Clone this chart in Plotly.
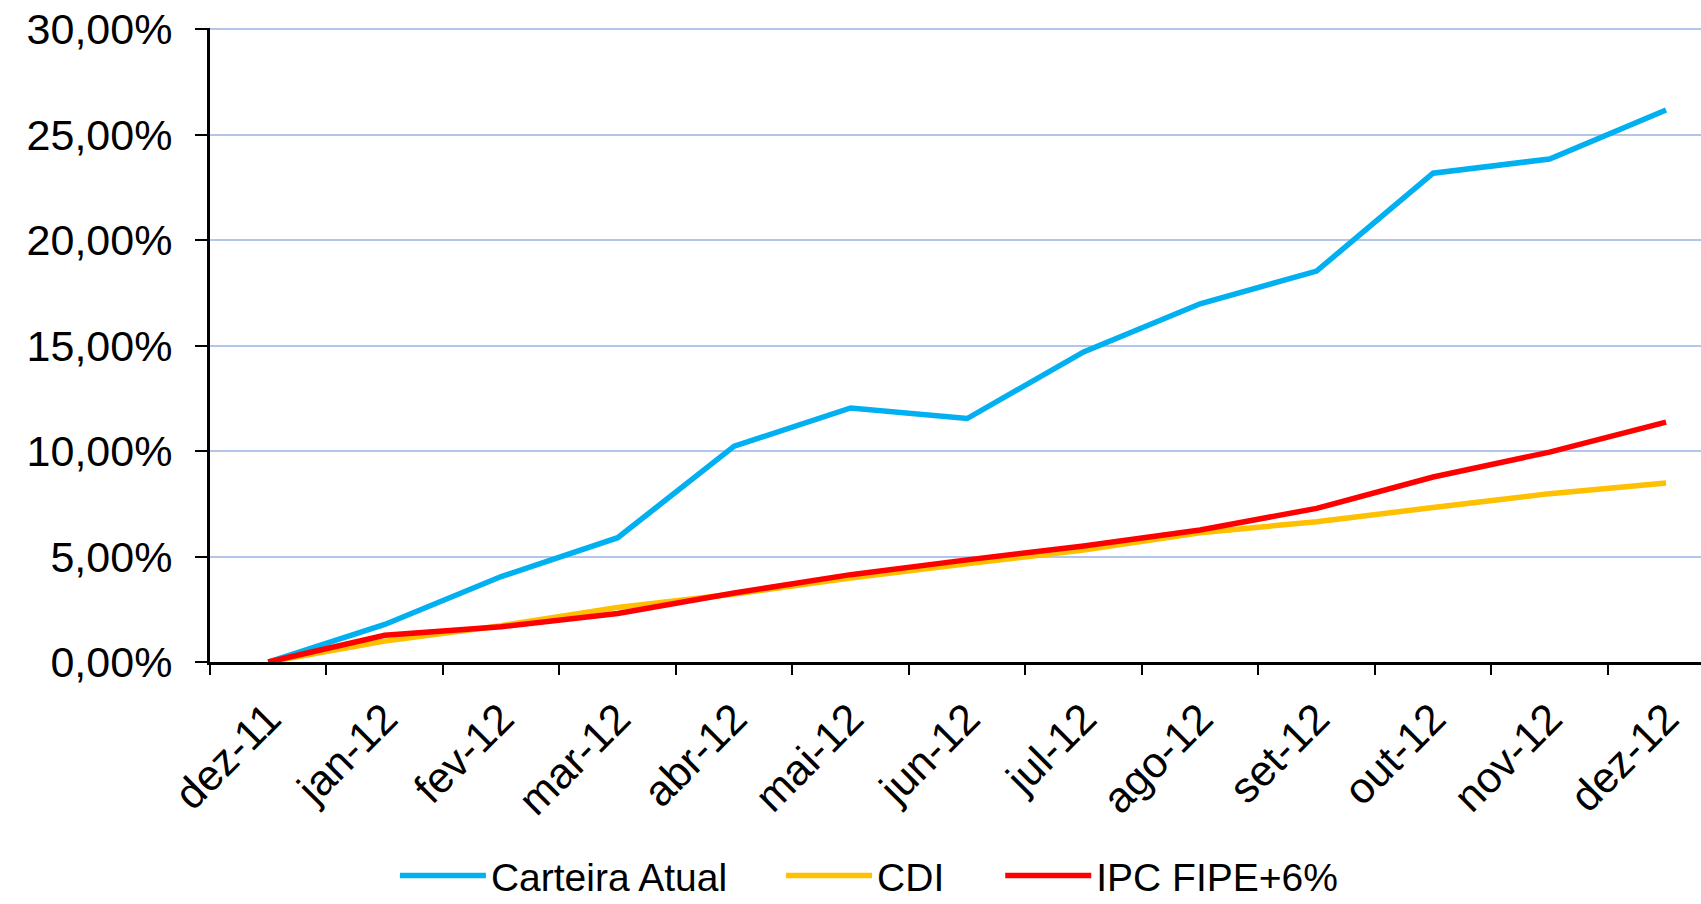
import plotly.graph_objects as go

# ── DATA ────────────────────────────────────────────────────
meses = ["dez-11", "jan-12", "fev-12", "mar-12", "abr-12", "mai-12", "jun-12",
         "jul-12", "ago-12", "set-12", "out-12", "nov-12", "dez-12"]

carteira = [0.00, 1.78, 4.05, 5.89, 10.23, 12.04, 11.54,
            14.70, 16.98, 18.53, 23.17, 23.84, 26.16]
cdi      = [0.00, 0.99, 1.72, 2.59, 3.22, 3.98, 4.65,
            5.31, 6.13, 6.65, 7.32, 7.98, 8.48]
ipc      = [0.00, 1.27, 1.67, 2.30, 3.27, 4.14, 4.84,
            5.50, 6.26, 7.28, 8.77, 9.95, 11.37]

y_ticks  = [0, 5, 10, 15, 20, 25, 30]
y_labels = ["0,00%", "5,00%", "10,00%", "15,00%", "20,00%", "25,00%", "30,00%"]

FONT = "Liberation Sans, Arial, sans-serif"

# ── FIGURE ──────────────────────────────────────────────────
fig = go.Figure()
fig.add_trace(go.Scatter(x=meses, y=carteira, mode="lines", name="Carteira Atual",
                         line=dict(color="#00B0F0", width=5.5), legend="legend"))
fig.add_trace(go.Scatter(x=meses, y=cdi, mode="lines", name="CDI",
                         line=dict(color="#FFC000", width=5.5), legend="legend2"))
fig.add_trace(go.Scatter(x=meses, y=ipc, mode="lines", name="IPC FIPE+6%",
                         line=dict(color="#FF0000", width=5.5), legend="legend3"))

# one legend per entry so the entries can be spread like the original
def leg(x):
    return dict(orientation="h", x=x, xanchor="left", y=-0.337, yanchor="middle",
                font=dict(size=39, family=FONT), itemwidth=86,
                bgcolor="rgba(0,0,0,0)")

fig.update_layout(
    width=1701, height=904,
    margin=dict(l=210, r=0, t=28, b=242, autoexpand=False),
    paper_bgcolor="white", plot_bgcolor="white",
    font=dict(family=FONT, color="black"),
    showlegend=True,
    legend=leg(0.124), legend2=leg(0.383), legend3=leg(0.530),
)

fig.update_xaxes(
    type="category", range=[-0.5, 12.3], automargin=False,
    showline=True, linecolor="black", linewidth=3,
    ticks="outside", tickson="boundaries", ticklen=10, tickwidth=2, tickcolor="black",
    tickangle=-45, tickfont=dict(size=43, family=FONT),
    ticklabelstandoff=11,
    showgrid=False, zeroline=False,
)
fig.update_yaxes(
    range=[0, 30.05], tickvals=y_ticks, ticktext=y_labels, automargin=False,
    showline=True, linecolor="black", linewidth=3,
    ticks="outside", ticklen=12, tickwidth=2, tickcolor="black",
    tickfont=dict(size=43, family=FONT), ticklabelstandoff=14,
    showgrid=True, gridcolor="#B4C6E7", gridwidth=2,
    zeroline=False,
)

# page body has a default 8px margin -> remove it so the figure sits at (0,0)
fig.write_html("out.html", config={"displayModeBar": False},
               post_script="document.body.style.margin='0';")
